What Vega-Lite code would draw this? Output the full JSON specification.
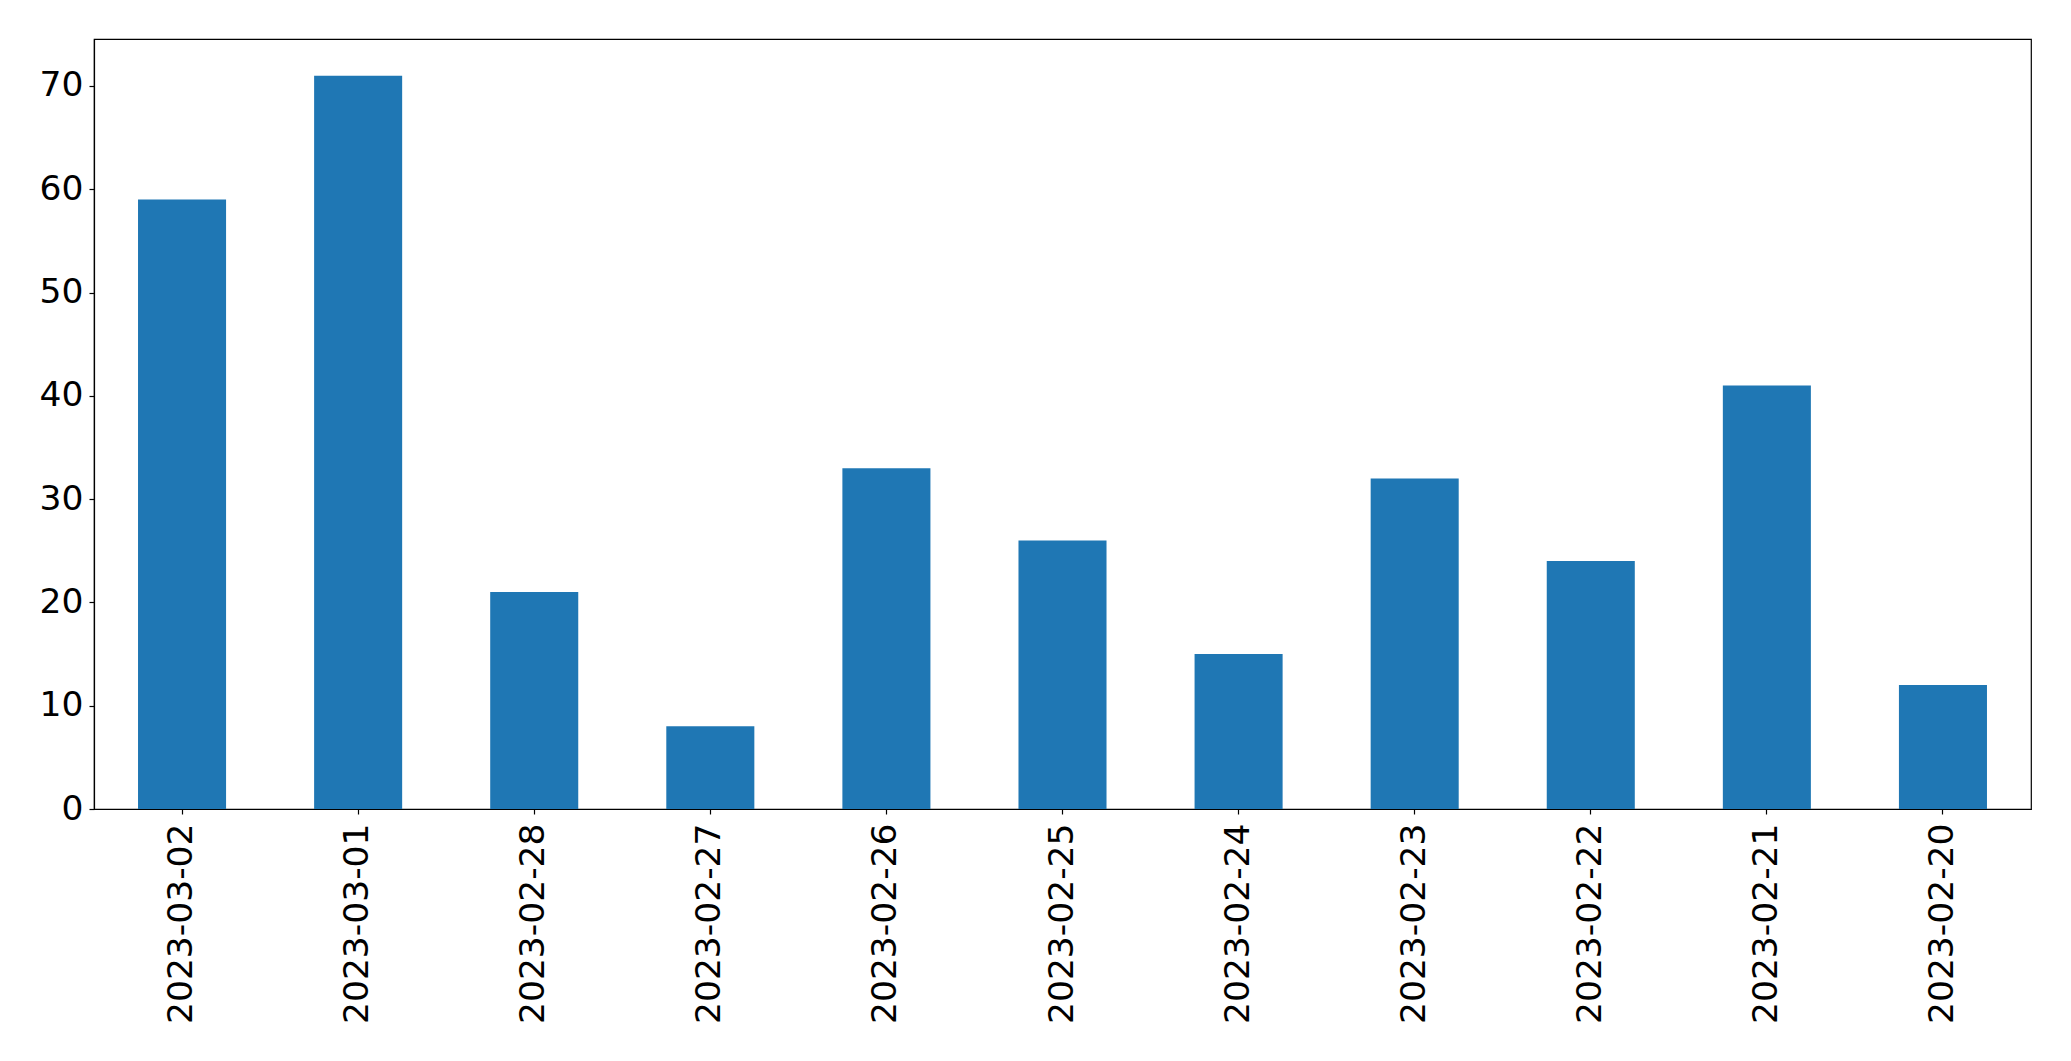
{
  "$schema": "https://vega.github.io/schema/vega-lite/v6.json",
  "autosize": "none",
  "width": 1937,
  "height": 770,
  "padding": {"left": 94, "top": 39, "right": 40, "bottom": 252},
  "background": "white",
  "config": {
    "view": {"stroke": "black", "strokeWidth": 1.2},
    "font": "DejaVu Sans",
    "axis": {
      "labelFont": "DejaVu Sans",
      "labelFontSize": 34.5,
      "labelColor": "black",
      "labelLimit": 0,
      "domainColor": "black",
      "tickColor": "black",
      "tickSize": 5,
      "tickWidth": 1.2,
      "domainWidth": 1.2,
      "grid": false,
      "title": null,
      "labelPadding": 6
    }
  },
  "data": {
    "values": [
      {"date": "2023-03-02", "count": 59},
      {"date": "2023-03-01", "count": 71},
      {"date": "2023-02-28", "count": 21},
      {"date": "2023-02-27", "count": 8},
      {"date": "2023-02-26", "count": 33},
      {"date": "2023-02-25", "count": 26},
      {"date": "2023-02-24", "count": 15},
      {"date": "2023-02-23", "count": 32},
      {"date": "2023-02-22", "count": 24},
      {"date": "2023-02-21", "count": 41},
      {"date": "2023-02-20", "count": 12}
    ]
  },
  "mark": {"type": "bar", "color": "#1f77b4"},
  "encoding": {
    "x": {
      "field": "date",
      "type": "nominal",
      "sort": null,
      "scale": {"paddingInner": 0.5, "paddingOuter": 0.25},
      "axis": {"labelAngle": -90, "labelPadding": 9, "labelLimit": 0}
    },
    "y": {
      "field": "count",
      "type": "quantitative",
      "scale": {"domain": [0, 74.55], "nice": false},
      "axis": {"values": [0, 10, 20, 30, 40, 50, 60, 70], "labelPadding": 6}
    }
  }
}
